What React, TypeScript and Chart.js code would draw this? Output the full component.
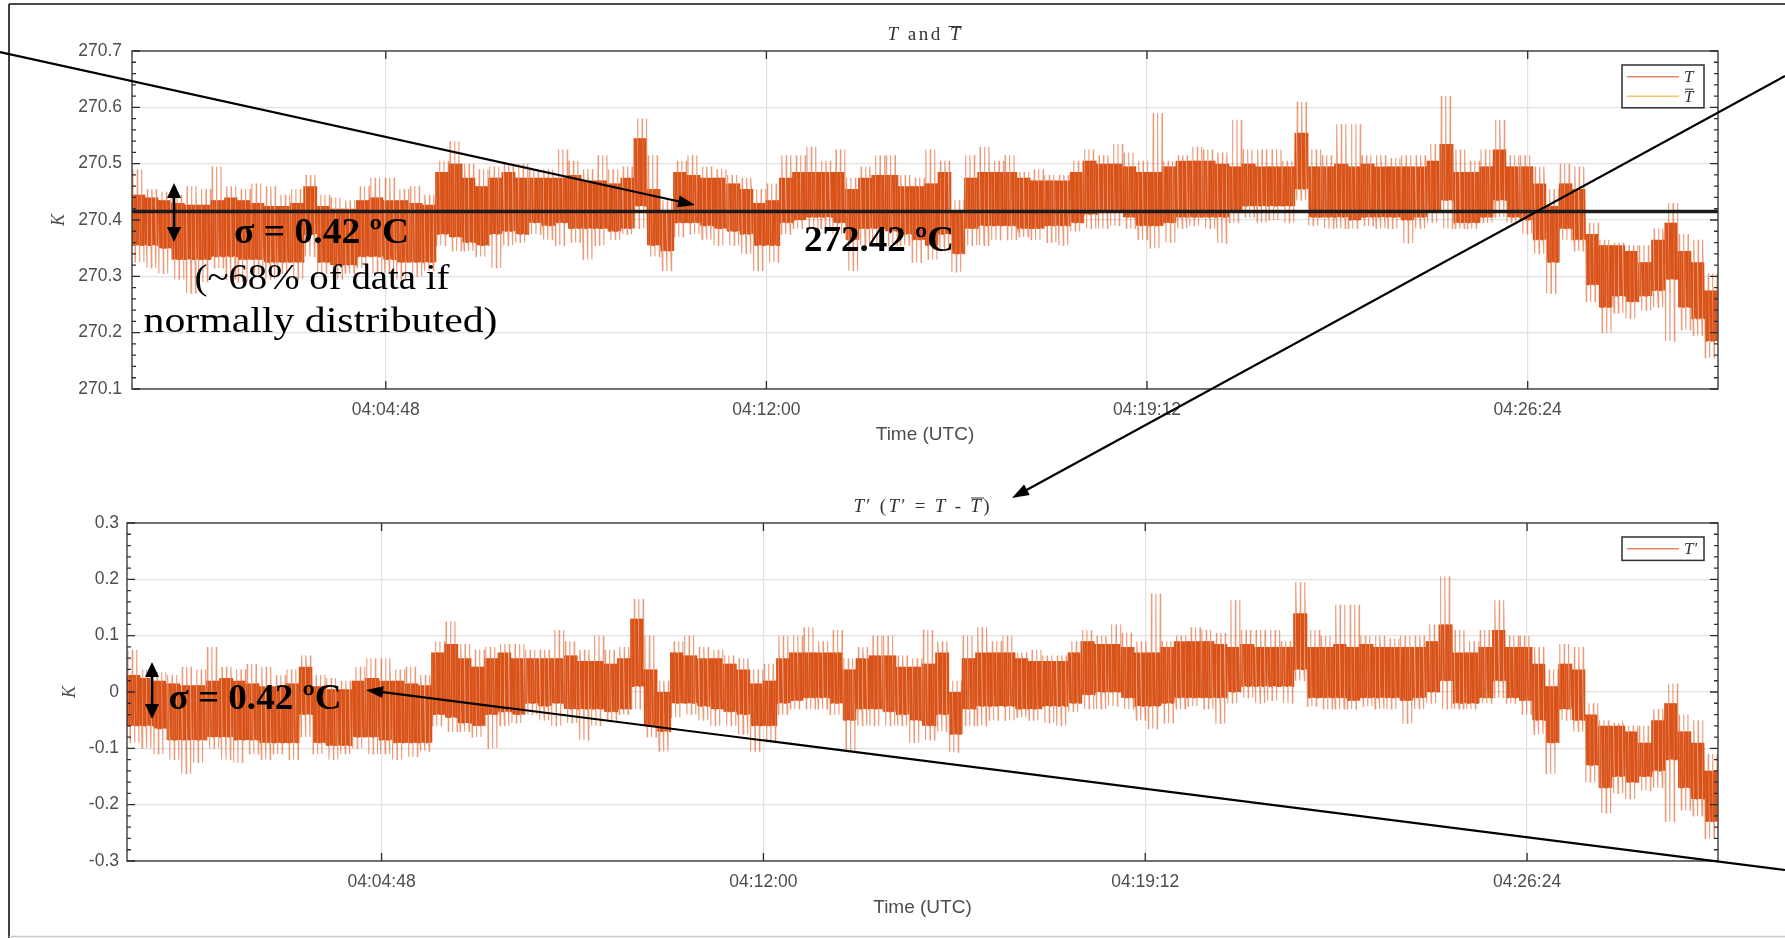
import React, { useEffect, useRef } from 'react';
import { Chart, registerables } from 'chart.js';

Chart.register(...registerables);

// Mean temperature (K) used for the T-bar line and for T' = T - T-bar
const TBAR = 270.415;

// Record sampled in 15 s windows, 04:00:00 - 04:30:00 (seconds from 04:00:00).
const WINDOW_SECONDS = 15;
const SUBSTEPS = 30;

// Fluctuation T' (K) per window: upper / lower edge of the dense band,
// and the highest / lowest excursion inside the window.
const bandHigh = [
  0.03, 0.025, 0.02, 0.015, 0.012, 0.012, 0.02, 0.025, 0.02, 0.015,
  0.01, 0.01, 0.015, 0.045, 0.01, 0.005, 0.005, 0.02, 0.025, 0.02,
  0.02, 0.015, 0.012, 0.07, 0.085, 0.06, 0.045, 0.06, 0.07, 0.06,
  0.06, 0.06, 0.06, 0.065, 0.055, 0.055, 0.05, 0.06, 0.13, 0.04,
  0.0, 0.07, 0.065, 0.06, 0.06, 0.05, 0.04, 0.015, 0.02, 0.06,
  0.07, 0.07, 0.07, 0.07, 0.04, 0.06, 0.065, 0.065, 0.045, 0.045,
  0.05, 0.07, 0.0, 0.06, 0.07, 0.07, 0.07, 0.06, 0.055, 0.055,
  0.055, 0.07, 0.09, 0.085, 0.085, 0.08, 0.07, 0.07, 0.08, 0.09,
  0.09, 0.09, 0.085, 0.08, 0.085, 0.08, 0.08, 0.08, 0.14, 0.08,
  0.08, 0.085, 0.08, 0.085, 0.08, 0.08, 0.08, 0.08, 0.09, 0.12,
  0.07, 0.07, 0.08, 0.11, 0.08, 0.08, 0.05, 0.01, 0.05, 0.04,
  -0.04, -0.06, -0.06, -0.07, -0.09, -0.05, -0.02, -0.07, -0.09, -0.14,
];
const bandLow = [
  -0.06, -0.06, -0.065, -0.085, -0.085, -0.085, -0.08, -0.08, -0.085, -0.085,
  -0.09, -0.09, -0.09, -0.04, -0.09, -0.095, -0.095, -0.08, -0.08, -0.085,
  -0.09, -0.09, -0.09, -0.04, -0.045, -0.055, -0.06, -0.04, -0.035, -0.04,
  -0.02, -0.025, -0.02, -0.03, -0.03, -0.03, -0.035, -0.03, 0.01, -0.06,
  -0.07, -0.02, -0.02, -0.025, -0.03, -0.035, -0.04, -0.06, -0.06, -0.02,
  -0.015, -0.01, -0.01, -0.02, -0.05, -0.03, -0.03, -0.035, -0.04, -0.05,
  -0.06, -0.04, -0.075, -0.03, -0.025, -0.025, -0.025, -0.03, -0.03, -0.025,
  -0.025, -0.02, -0.005, 0.0, 0.0, -0.01, -0.025, -0.025, -0.02, -0.01,
  -0.01, -0.01, -0.01, 0.0, 0.01, 0.01, 0.01, 0.01, 0.04, -0.01,
  -0.01, -0.01, -0.015, -0.01, -0.01, -0.01, -0.015, -0.01, 0.0, 0.02,
  -0.02, -0.02, -0.01, 0.02, -0.01, -0.015, -0.05, -0.09, -0.03, -0.05,
  -0.13, -0.17, -0.15, -0.16, -0.15, -0.14, -0.12, -0.17, -0.19, -0.23,
];
const peakHigh = [
  0.075, 0.04, 0.035, 0.03, 0.045, 0.04, 0.08, 0.045, 0.04, 0.05,
  0.045, 0.03, 0.04, 0.065, 0.03, 0.025, 0.02, 0.045, 0.06, 0.06,
  0.04, 0.045, 0.03, 0.09, 0.125, 0.085, 0.075, 0.08, 0.085, 0.085,
  0.075, 0.075, 0.11, 0.09, 0.075, 0.1, 0.075, 0.08, 0.165, 0.1,
  0.02, 0.09, 0.1, 0.08, 0.075, 0.065, 0.06, 0.04, 0.05, 0.1,
  0.1, 0.115, 0.09, 0.11, 0.06, 0.08, 0.1, 0.1, 0.065, 0.06,
  0.11, 0.09, 0.02, 0.1, 0.115, 0.09, 0.1, 0.07, 0.075, 0.065,
  0.065, 0.09, 0.11, 0.1, 0.12, 0.105, 0.09, 0.175, 0.09, 0.1,
  0.115, 0.11, 0.105, 0.163, 0.11, 0.11, 0.11, 0.09, 0.195, 0.11,
  0.1, 0.155, 0.155, 0.1, 0.1, 0.095, 0.1, 0.1, 0.12, 0.205,
  0.11, 0.09, 0.11, 0.163, 0.1, 0.1, 0.08, 0.04, 0.085, 0.08,
  -0.02, -0.05, -0.055, -0.06, -0.06, -0.03, 0.015, -0.04, -0.05, -0.11,
];
const peakLow = [
  -0.09, -0.1, -0.11, -0.12, -0.145, -0.125, -0.1, -0.12, -0.125, -0.11,
  -0.12, -0.11, -0.12, -0.08, -0.11, -0.12, -0.11, -0.1, -0.11, -0.11,
  -0.12, -0.115, -0.105, -0.06, -0.07, -0.07, -0.08, -0.1, -0.06, -0.055,
  -0.04, -0.05, -0.06, -0.055, -0.085, -0.06, -0.05, -0.04, -0.03, -0.08,
  -0.105, -0.045, -0.04, -0.05, -0.06, -0.06, -0.075, -0.105, -0.09, -0.04,
  -0.03, -0.03, -0.03, -0.04, -0.105, -0.06, -0.06, -0.06, -0.06, -0.09,
  -0.085, -0.07, -0.107, -0.06, -0.06, -0.05, -0.05, -0.045, -0.05, -0.055,
  -0.06, -0.035, -0.03, -0.03, -0.025, -0.03, -0.05, -0.065, -0.055, -0.03,
  -0.025, -0.03, -0.056, -0.02, -0.01, -0.02, -0.015, -0.02, 0.02, -0.025,
  -0.03, -0.03, -0.03, -0.025, -0.03, -0.03, -0.056, -0.03, -0.02, -0.03,
  -0.03, -0.03, -0.02, -0.01, -0.02, -0.04, -0.075, -0.145, -0.05, -0.07,
  -0.16, -0.215, -0.18, -0.19, -0.175, -0.17, -0.23, -0.21, -0.22, -0.26,
];

// Axis ticks
const T_TICKS = [270.1, 270.2, 270.3, 270.4, 270.5, 270.6, 270.7];
const TP_TICKS = [-0.3, -0.2, -0.1, 0, 0.1, 0.2, 0.3];
const TIME_TICKS = [288, 720, 1152, 1584];
const TIME_LABELS = ['04:04:48', '04:12:00', '04:19:12', '04:26:24'];
const TIME_START = 0;
const TIME_END = 1800;

const ORANGE = '#D95319';
const ORANGE_THIN = 'rgba(217, 83, 25, 0.58)';
const YELLOW = '#EDB120';
const AXIS_INK = '#2e2e2e';
const TICK_INK = '#4d4d4d';
const GRID = '#e1e1e1';
const SANS = '"Liberation Sans", Arial, Helvetica, sans-serif';
const SERIF = '"Liberation Serif", "Times New Roman", serif';

// Expand each window into a dense zig-zag trace between the band edges;
// the window's excursions are drawn as thin spikes out of the band.
function fluctuationTrace() {
  const pts: { x: number; y: number }[] = [];
  const spike: boolean[] = [];
  const step = WINDOW_SECONDS / SUBSTEPS;
  for (let k = 0; k < bandHigh.length; k++) {
    const r = k % 3;
    const ups = [2 + r * 3, 12 + r * 3, 22 + r * 3];
    const downs = [7 - r * 3, 17 - r * 3, 27 - r * 3];
    for (let j = 0; j < SUBSTEPS; j++) {
      let v = j % 2 === 0 ? bandHigh[k] : bandLow[k];
      let s = false;
      if (ups.includes(j)) {
        v = peakHigh[k];
        s = true;
      } else if (downs.includes(j)) {
        v = peakLow[k];
        s = true;
      }
      pts.push({ x: TIME_START + k * WINDOW_SECONDS + j * step, y: v });
      spike.push(s);
    }
  }
  return { pts, spike };
}

// MATLAB-like axes decoration: box, inward ticks, mean line, legend box.
const matlabAxes = {
  id: 'matlabAxes',
  afterDatasetsDraw(chart: any, _args: any, opts: any) {
    if (opts.meanValue == null) return;
    const { ctx, chartArea: a, scales } = chart;
    const py = scales.y.getPixelForValue(opts.meanValue);
    ctx.save();
    ctx.strokeStyle = '#1c1c1c';
    ctx.lineWidth = 3.5;
    ctx.beginPath();
    ctx.moveTo(a.left, py);
    ctx.lineTo(a.right, py);
    ctx.stroke();
    ctx.restore();
  },
  afterDraw(chart: any, _args: any, opts: any) {
    const { ctx, chartArea: a, scales } = chart;
    const x = scales.x;
    const y = scales.y;
    ctx.save();
    ctx.strokeStyle = AXIS_INK;
    ctx.lineWidth = 1.3;
    ctx.strokeRect(a.left, a.top, a.right - a.left, a.bottom - a.top);

    // y ticks (major every 5 minor steps) on both sides
    const n = Math.round((y.max - y.min) / opts.minorStep);
    ctx.beginPath();
    for (let i = 0; i <= n; i++) {
      const v = y.min + i * opts.minorStep;
      const py = y.getPixelForValue(v);
      const len = i % 5 === 0 ? 8 : 4;
      ctx.moveTo(a.left, py);
      ctx.lineTo(a.left + len, py);
      ctx.moveTo(a.right, py);
      ctx.lineTo(a.right - len, py);
    }
    // x ticks at top and bottom
    x.ticks.forEach((t: any) => {
      const px = x.getPixelForValue(t.value);
      ctx.moveTo(px, a.bottom);
      ctx.lineTo(px, a.bottom - 8);
      ctx.moveTo(px, a.top);
      ctx.lineTo(px, a.top + 8);
    });
    ctx.stroke();

    // legend box in the upper-right corner
    const items = chart.data.datasets;
    const boxW = 82;
    const rowH = 19.4;
    const boxH = 4 + rowH * items.length;
    const bx = a.right - 14 - boxW;
    const by = a.top + 14;
    ctx.fillStyle = '#ffffff';
    ctx.fillRect(bx, by, boxW, boxH);
    ctx.lineWidth = 1.5;
    ctx.strokeStyle = AXIS_INK;
    ctx.strokeRect(bx, by, boxW, boxH);
    items.forEach((ds: any, i: number) => {
      const cy = by + 11.8 + i * rowH;
      ctx.strokeStyle = ds.borderColor;
      ctx.globalAlpha = 0.7;
      ctx.lineWidth = 1.6;
      ctx.beginPath();
      ctx.moveTo(bx + 5, cy);
      ctx.lineTo(bx + 57, cy);
      ctx.stroke();
      ctx.globalAlpha = 1;
      ctx.fillStyle = '#333';
      ctx.font = `italic 17px ${SERIF}`;
      ctx.textBaseline = 'middle';
      ctx.textAlign = 'left';
      const label = ds.label.replace('\u0305', '');
      ctx.fillText(label, bx + 62, cy + 1);
      if (ds.label.includes('\u0305')) {
        const w = ctx.measureText(label).width;
        ctx.strokeStyle = '#333';
        ctx.lineWidth = 1;
        ctx.beginPath();
        ctx.moveTo(bx + 63, cy - 7);
        ctx.lineTo(bx + 62 + w, cy - 7);
        ctx.stroke();
      }
    });
    ctx.restore();
  },
};

function timeLabel(v: number) {
  const i = TIME_TICKS.indexOf(v);
  return i >= 0 ? TIME_LABELS[i] : '';
}

function makeConfig(kind: 'T' | 'Tp', datasets: any[], dims: any) {
  const yTicks = kind === 'T' ? T_TICKS : TP_TICKS;
  return {
    type: 'line',
    data: { datasets },
    options: {
      animation: false,
      responsive: false,
      devicePixelRatio: 1,
      parsing: false,
      normalized: true,
      layout: { padding: { left: 0, right: dims.right, top: dims.top, bottom: 0 } },
      plugins: {
        legend: { display: false },
        tooltip: { enabled: false },
        matlabAxes: {
          meanValue: kind === 'T' ? TBAR : null,
          minorStep: 0.02,
        },
      },
      elements: { point: { radius: 0 }, line: { tension: 0 } },
      scales: {
        x: {
          type: 'linear',
          min: TIME_START,
          max: TIME_END,
          afterBuildTicks: (s: any) => {
            s.ticks = TIME_TICKS.map((value) => ({ value }));
          },
          afterFit: (s: any) => {
            s.height = dims.xHeight;
          },
          grid: { color: GRID, lineWidth: 1.2, drawTicks: false },
          border: { display: false },
          ticks: {
            autoSkip: false,
            maxRotation: 0,
            padding: 10.5,
            color: TICK_INK,
            font: { family: SANS, size: 17.5 },
            callback: (v: number) => timeLabel(v),
          },
          title: {
            display: true,
            text: 'Time (UTC)',
            color: TICK_INK,
            font: { family: SANS, size: 19 },
            padding: { top: 0, bottom: dims.xTitlePad },
          },
        },
        y: {
          min: yTicks[0],
          max: yTicks[yTicks.length - 1],
          afterBuildTicks: (s: any) => {
            s.ticks = yTicks.map((value) => ({ value }));
          },
          afterFit: (s: any) => {
            s.width = dims.yWidth;
          },
          grid: { color: GRID, lineWidth: 1.2, drawTicks: false },
          border: { display: false },
          ticks: {
            padding: dims.yTickPad,
            color: TICK_INK,
            font: { family: SANS, size: 17.5 },
            callback: (v: number) => (Math.abs(v) < 1e-9 ? '0' : Number(v).toFixed(1)),
          },
          title: {
            display: true,
            text: 'K',
            color: TICK_INK,
            font: { family: SERIF, style: 'italic', size: 18 },
            padding: { top: dims.yTitlePad, bottom: 0 },
          },
        },
      },
    },
    plugins: [matlabAxes],
  };
}

function Arrow({ x1, y1, x2, y2, w = 2.2, head = 17, half = 6 }: any) {
  const dx = x2 - x1;
  const dy = y2 - y1;
  const L = Math.hypot(dx, dy);
  const ux = dx / L;
  const uy = dy / L;
  const bx = x2 - ux * head;
  const by = y2 - uy * head;
  const px = -uy;
  const py = ux;
  return (
    <g>
      <line x1={x1} y1={y1} x2={bx + ux * 2} y2={by + uy * 2} stroke="#000" strokeWidth={w} />
      <polygon
        points={`${x2},${y2} ${bx + px * half},${by + py * half} ${bx - px * half},${by - py * half}`}
        fill="#000"
      />
    </g>
  );
}

function DoubleArrow({ x, y1, y2 }: any) {
  const h = 15;
  const half = 7;
  return (
    <g>
      <line x1={x} y1={y1 + h - 1} x2={x} y2={y2 - h + 1} stroke="#000" strokeWidth={2.6} />
      <polygon points={`${x},${y1} ${x - half},${y1 + h} ${x + half},${y1 + h}`} fill="#000" />
      <polygon points={`${x},${y2} ${x - half},${y2 - h} ${x + half},${y2 - h}`} fill="#000" />
    </g>
  );
}

export default function App() {
  const topRef = useRef<HTMLCanvasElement>(null);
  const botRef = useRef<HTMLCanvasElement>(null);

  useEffect(() => {
    const { pts: fluct, spike } = fluctuationTrace();
    const temps = fluct.map((p) => ({ x: p.x, y: TBAR + p.y }));
    const meanLine = [
      { x: TIME_START, y: TBAR },
      { x: TIME_END, y: TBAR },
    ];
    const segment = {
      borderColor: (c: any) => (spike[c.p0DataIndex] || spike[c.p1DataIndex] ? ORANGE_THIN : ORANGE),
    };

    const top = new Chart(
      topRef.current as HTMLCanvasElement,
      makeConfig(
        'T',
        [
          { label: 'T', data: temps, borderColor: ORANGE, borderWidth: 1.1, pointRadius: 0, segment },
          { label: 'T\u0305', data: meanLine, borderColor: YELLOW, borderWidth: 1.5, pointRadius: 0 },
        ],
        { right: 67, top: 51, xHeight: 81, yWidth: 132, yTickPad: 10, yTitlePad: 48, xTitlePad: 23.6 }
      ) as any
    );
    const bottom = new Chart(
      botRef.current as HTMLCanvasElement,
      makeConfig(
        'Tp',
        [{ label: 'T\u2032', data: fluct, borderColor: ORANGE, borderWidth: 1.1, pointRadius: 0, segment }],
        { right: 67, top: 53, xHeight: 77, yWidth: 127, yTickPad: 8, yTitlePad: 59, xTitlePad: 19 }
      ) as any
    );
    return () => {
      top.destroy();
      bottom.destroy();
    };
  }, []);

  return (
    <div
      style={{
        position: 'fixed',
        left: 0,
        top: 0,
        width: 1785,
        height: 938,
        background: '#ffffff',
        overflow: 'hidden',
      }}
    >
      <canvas ref={topRef} width={1785} height={470} style={{ position: 'absolute', left: 0, top: 0 }} />
      <canvas ref={botRef} width={1785} height={468} style={{ position: 'absolute', left: 0, top: 470 }} />
      <svg
        width={1785}
        height={938}
        style={{ position: 'absolute', left: 0, top: 0, pointerEvents: 'none' }}
      >
        {/* page frame */}
        <line x1={9} y1={4} x2={1785} y2={4} stroke="#111" strokeWidth={1.6} />
        <line x1={9} y1={4} x2={9} y2={938} stroke="#111" strokeWidth={1.6} />
        <line x1={9} y1={936.5} x2={1785} y2={936.5} stroke="#c8c8c8" strokeWidth={1.5} />

        {/* panel titles */}
        <text x={924} y={39.5} textAnchor="middle" fontFamily={SERIF} fontSize={19} fill="#333" textLength={73} lengthAdjust="spacing">
          <tspan fontStyle="italic">T</tspan> and <tspan fontStyle="italic">T</tspan>
        </text>
        <line x1={948.5} y1={26.5} x2={961.5} y2={26.5} stroke="#333" strokeWidth={1} />
        <text x={921.5} y={511.5} textAnchor="middle" fontFamily={SERIF} fontSize={19} fill="#333" textLength={136} lengthAdjust="spacing">
          <tspan fontStyle="italic">T</tspan>{'\u2032 ('}<tspan fontStyle="italic">T</tspan>{'\u2032 = '}
          <tspan fontStyle="italic">T</tspan>{' - '}<tspan fontStyle="italic">T</tspan>)
        </text>
        <line x1={971} y1={498} x2={984} y2={498} stroke="#333" strokeWidth={1} />

        {/* annotations */}
        <Arrow x1={0} y1={52} x2={695} y2={205} />
        <Arrow x1={1785} y1={76} x2={1012} y2={498} />
        <Arrow x1={1785} y1={870} x2={366} y2={690} />
        <DoubleArrow x={174} y1={183} y2={242} />
        <DoubleArrow x={152} y1={662} y2={719} />

        <text x={321.5} y={243} textAnchor="middle" fontFamily={SERIF} fontWeight="bold" fontSize={36} textLength={175} lengthAdjust="spacingAndGlyphs" fill="#000">
          σ = 0.42 ºC
        </text>
        <text x={322} y={289} textAnchor="middle" fontFamily={SERIF} fontSize={35} textLength={255} lengthAdjust="spacingAndGlyphs" fill="#000">
          (~68% of data if
        </text>
        <text x={320.5} y={332} textAnchor="middle" fontFamily={SERIF} fontSize={35} textLength={354} lengthAdjust="spacingAndGlyphs" fill="#000">
          normally distributed)
        </text>
        <text x={879} y={251} textAnchor="middle" fontFamily={SERIF} fontWeight="bold" fontSize={36} textLength={150} lengthAdjust="spacingAndGlyphs" fill="#000">
          272.42 ºC
        </text>
        <text x={255} y={709} textAnchor="middle" fontFamily={SERIF} fontWeight="bold" fontSize={36} textLength={173} lengthAdjust="spacingAndGlyphs" fill="#000">
          σ = 0.42 ºC
        </text>
      </svg>
    </div>
  );
}
